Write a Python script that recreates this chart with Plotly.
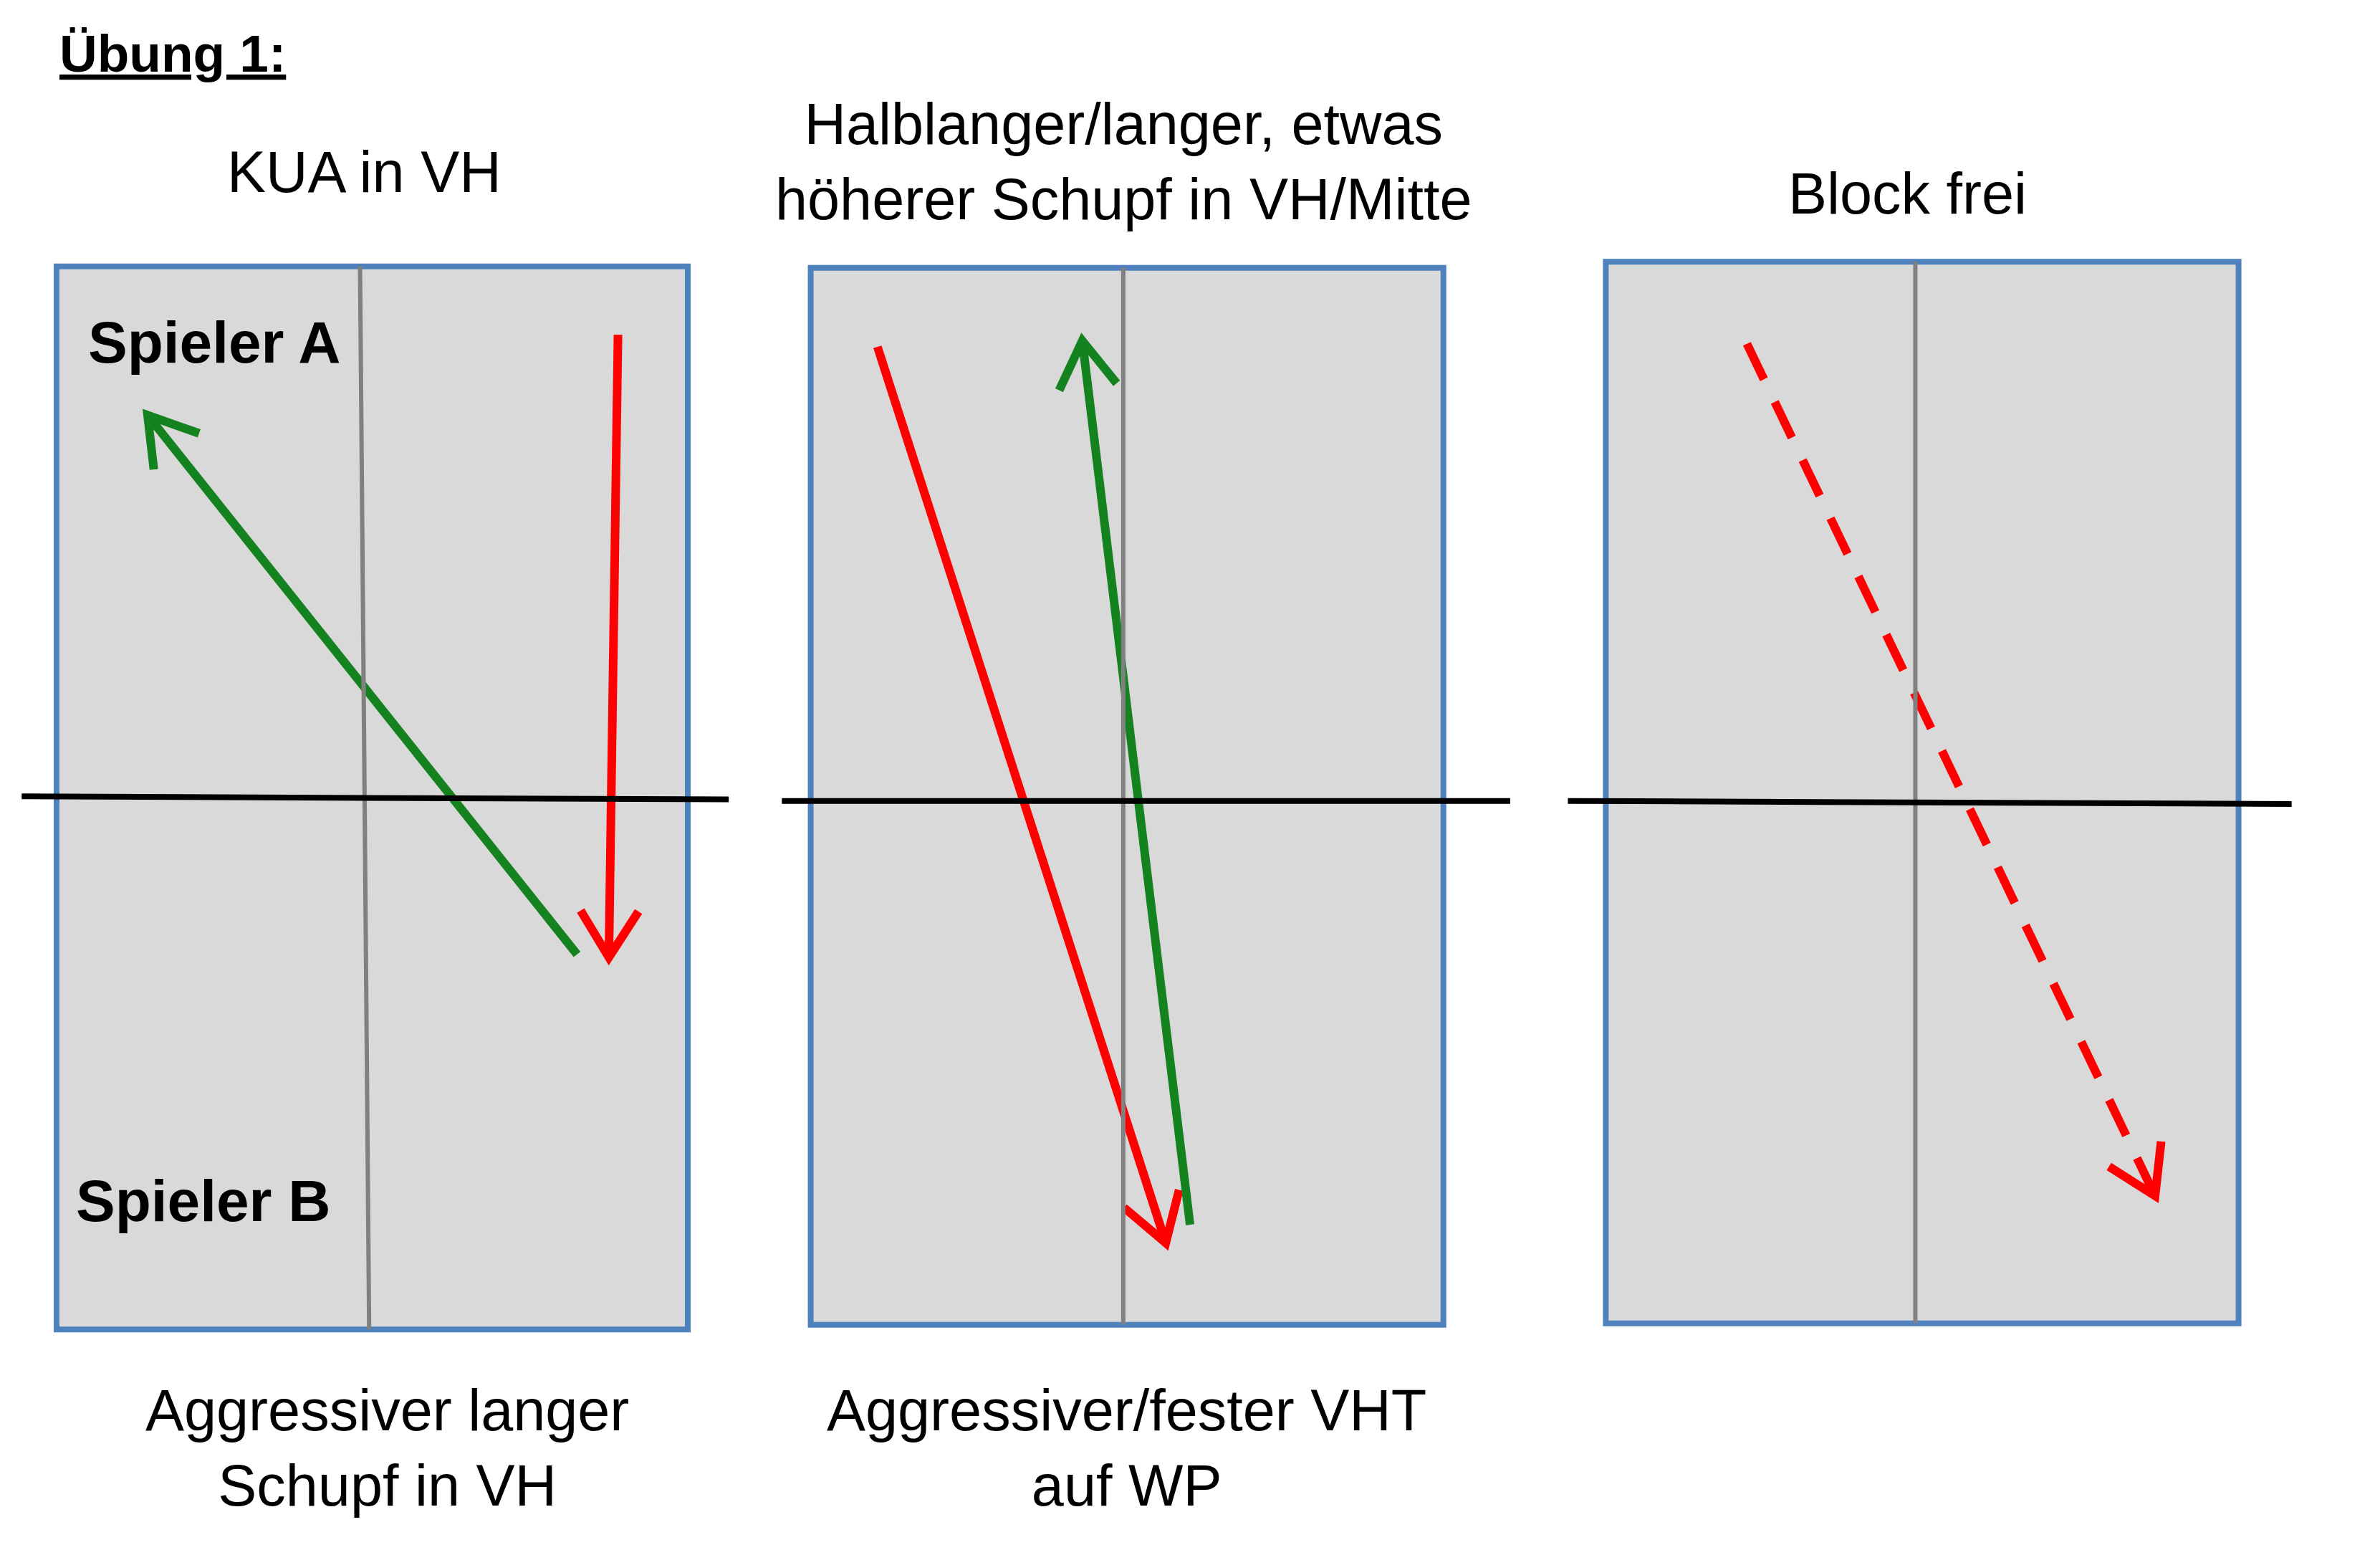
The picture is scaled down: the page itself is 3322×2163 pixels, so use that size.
import numpy as np
import plotly.graph_objects as go

# Koordinaten in Bildpunkten des Vorlagenbildes (ca. 1550 x 1012)
tables_x0 = [37, 534, 1058]
tables_x1 = [453, 951, 1475]
tables_y0 = [175, 176, 172]
tables_y1 = [875, 872, 871]
mid_top_x = [237, 740, 1262]
mid_bot_x = [243, 740, 1262]
net_x0 = [14, 515, 1033]
net_x1 = [480, 995, 1510]
net_y0 = [524, 527, 527]
net_y1 = [526, 527, 529]

# Pfeile: Start, Ende, Farbe, gestrichelt
arrow_start = [(380, 628), (407, 220), (578, 228), (784, 806), (1151, 226)]
arrow_end = [(97, 273), (401, 630), (768, 818), (713, 224), (1420, 787)]
arrow_color = ["#14821e", "#ff0000", "#ff0000", "#14821e", "#ff0000"]
arrow_dash = [False, False, False, False, True]

titles = ["KUA in VH", "Halblanger/langer, etwas<br>höherer Schupf in VH/Mitte", "Block frei"]
titles_x = [240, 740, 1257]
titles_y = [113, 106, 127]
bottoms = ["Aggressiver langer<br>Schupf in VH", "Aggressiver/fester VHT<br>auf WP"]
bottoms_x = [255, 742]
bottoms_y = [953, 953]

fig = go.Figure()
shapes = []
for i in range(3):
    shapes.append(dict(type="rect", x0=tables_x0[i], x1=tables_x1[i], y0=tables_y0[i], y1=tables_y1[i],
                       fillcolor="#d9d9d9", line=dict(color="#4f81bd", width=8), layer="below"))
    shapes.append(dict(type="line", x0=mid_top_x[i], x1=mid_bot_x[i], y0=tables_y0[i], y1=tables_y1[i],
                       line=dict(color="#808080", width=6)))
    shapes.append(dict(type="line", x0=net_x0[i], x1=net_x1[i], y0=net_y0[i], y1=net_y1[i],
                       line=dict(color="#000000", width=8)))

head_len = 36
head_ang = np.radians(32)
for s, e, c, d in zip(arrow_start, arrow_end, arrow_color, arrow_dash):
    fig.add_trace(go.Scatter(x=[s[0], e[0]], y=[s[1], e[1]], mode="lines",
                             line=dict(color=c, width=12, dash="55px,35px" if d else "solid"),
                             hoverinfo="skip", showlegend=False))
    ang = np.arctan2(s[1] - e[1], s[0] - e[0])
    hx = [e[0] + head_len * np.cos(ang + head_ang), e[0], e[0] + head_len * np.cos(ang - head_ang)]
    hy = [e[1] + head_len * np.sin(ang + head_ang), e[1], e[1] + head_len * np.sin(ang - head_ang)]
    fig.add_trace(go.Scatter(x=hx, y=hy, mode="lines", line=dict(color=c, width=12),
                             hoverinfo="skip", showlegend=False))

font = dict(family="Liberation Sans", size=81, color="#000000")
bold = dict(family="Liberation Sans", size=82, color="#000000")
ann = []
ann.append(dict(x=38, y=35, text="<b><u>Übung 1:</u></b>", xanchor="left", font=dict(family="Liberation Sans", size=73, color="#000")))
for t, x, y in zip(titles, titles_x, titles_y):
    ann.append(dict(x=x, y=y, text=t, font=font))
for t, x, y in zip(bottoms, bottoms_x, bottoms_y):
    ann.append(dict(x=x, y=y, text=t, font=font))
ann.append(dict(x=57, y=225, text="<b>Spieler A</b>", xanchor="left", font=bold))
ann.append(dict(x=49, y=790, text="<b>Spieler B</b>", xanchor="left", font=bold))
for a in ann:
    a.update(showarrow=False, xref="x", yref="y")

fig.update_layout(width=3322, height=2163, margin=dict(l=0, r=0, t=0, b=0),
                  plot_bgcolor="white", paper_bgcolor="white", shapes=shapes, annotations=ann,
                  xaxis=dict(range=[3.5, 1572], visible=False),
                  yaxis=dict(range=[1024, 3.4], visible=False))
fig.write_html("out.html")
